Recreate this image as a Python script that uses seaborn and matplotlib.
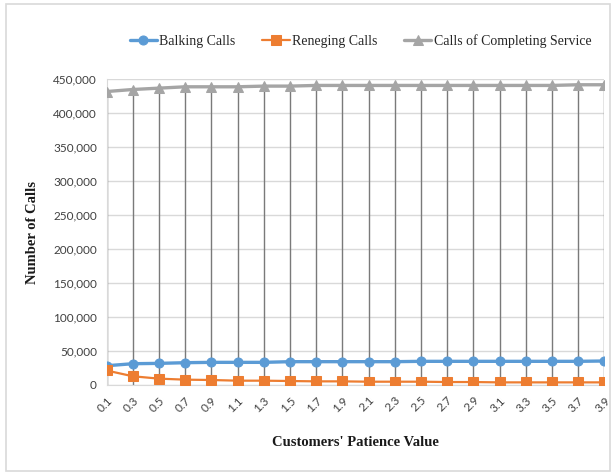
import matplotlib
matplotlib.use('Agg')
import matplotlib.pyplot as plt
from matplotlib.patches import Rectangle
from matplotlib.ticker import FuncFormatter
import seaborn as sns
import pandas as pd
import numpy as np

# ---------------- data ----------------
patience = [0.1, 0.3, 0.5, 0.7, 0.9, 1.1, 1.3, 1.5, 1.7, 1.9,
            2.1, 2.3, 2.5, 2.7, 2.9, 3.1, 3.3, 3.5, 3.7, 3.9]
tick_labels = ['0.1', '0.3', '0.5', '0.7', '0.9', '1.1', '1.3', '1.5', '1.7', '1.9',
               '2.1', '2.3', '2.5', '2.7', '2.9', '3.1', '3.3', '3.5', '3.7', '3.9']
balking = [28000, 31000, 31500, 32500, 33000, 33000, 33000, 34000, 34000, 34000,
           34000, 34000, 34500, 34500, 34500, 34500, 34500, 34500, 34500, 35000]
reneging = [21000, 12500, 9000, 7500, 7000, 6000, 6000, 5500, 5000, 5000,
            4500, 4500, 4500, 4000, 4000, 3500, 3500, 3500, 3500, 3500]
completing = [432000, 435000, 437000, 439000, 439000, 439000, 440000, 440000, 441000, 441000,
              441000, 441000, 441000, 441000, 441000, 441000, 441000, 441000, 442000, 442000]

df = pd.DataFrame({'x': patience, 'Balking Calls': balking,
                   'Reneging Calls': reneging,
                   'Calls of Completing Service': completing})

sns.set_style('white')
plt.rcParams['font.family'] = ['Lato', 'DejaVu Sans']

fig = plt.figure(figsize=(6.16, 4.75), dpi=100)
ax = fig.add_axes([0.173, 0.19, 0.808, 0.643])

# drop lines (Excel style) from the top series down to the axis
top = np.max(np.vstack([balking, reneging, completing]), axis=0)
ax.vlines(patience, 0, top, color='#7a7a7a', lw=1.0, zorder=1)

series = [('Balking Calls', '#5B9BD5', 'o', 6.5, 2.4),
          ('Reneging Calls', '#ED7D31', 's', 6.5, 1.6),
          ('Calls of Completing Service', '#A5A5A5', '^', 6.5, 2.4)]
for name, col, mk, ms, lw in series:
    sns.lineplot(data=df, x='x', y=name, ax=ax, color=col, lw=lw,
                 marker=mk, markersize=ms, markeredgecolor=col,
                 label=name, zorder=3)

ax.set_xlim(0.1, 3.9)
ax.set_ylim(0, 450000)
ax.set_yticks(np.arange(0, 450001, 50000))
ax.yaxis.set_major_formatter(FuncFormatter(lambda v, p: '{:,.0f}'.format(v)))
ax.set_xticks(patience)
ax.set_xticklabels(tick_labels, rotation=45, ha='right', rotation_mode='anchor')
ax.tick_params(axis='both', labelsize=8.5, labelcolor='#404040', length=0, pad=7)
ax.grid(axis='y', color='#d9d9d9', lw=1)
for s in ['top', 'right']:
    ax.spines[s].set_visible(False)
ax.spines['left'].set_color('#d9d9d9')
ax.spines['bottom'].set_color('#d9d9d9')

ax.set_xlabel("Customers' Patience Value", family='Liberation Serif',
              fontweight='bold', fontsize=10.5, color='#1a1a1a', labelpad=16)
ax.set_ylabel('Number of Calls', family='Liberation Serif',
              fontweight='bold', fontsize=10.5, color='#1a1a1a', labelpad=10)

ax.legend(loc='upper center', bbox_to_anchor=(0.585, 0.955),
          bbox_transform=fig.transFigure, ncol=3, frameon=False,
          prop={'family': 'Liberation Serif', 'size': 10},
          handlelength=2.0, columnspacing=1.9, handletextpad=0.15)

# light chart border
fig.patches.append(Rectangle((0.01, 0.008), 0.98, 0.984, transform=fig.transFigure,
                             fill=False, edgecolor='#d9d9d9', lw=1.2))

fig.savefig('out.png', dpi=100)
